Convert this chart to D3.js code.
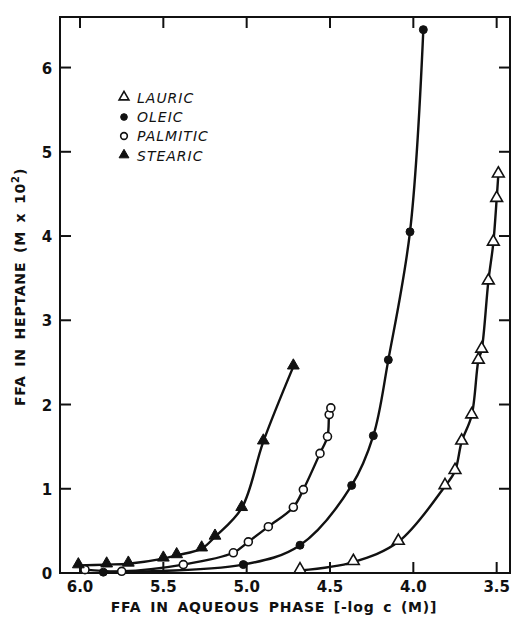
<!DOCTYPE html>
<html>
<head>
<meta charset="utf-8">
<script src="https://cdn.jsdelivr.net/npm/d3@7"></script>
<style>
  body { margin: 0; background: #fff; }
  svg { display: block; }
  text { font-family: "DejaVu Sans", sans-serif; fill: #111; }
</style>
</head>
<body>
<svg id="chart"></svg>
<script>
// x = -log c (M) in aqueous phase, y = FFA in heptane (M x 10^2)
const lauric = [
  [4.68, 0.03], [4.36, 0.13], [4.09, 0.37], [3.81, 1.03], [3.75, 1.21],
  [3.71, 1.56], [3.65, 1.87], [3.61, 2.52], [3.59, 2.65], [3.55, 3.46],
  [3.52, 3.92], [3.50, 4.44], [3.49, 4.73]
];
const oleic = [
  [5.86, 0.01], [5.02, 0.10], [4.68, 0.33], [4.37, 1.04], [4.24, 1.63],
  [4.15, 2.53], [4.02, 4.05], [3.94, 6.45]
];
const palmitic = [
  [5.97, 0.04], [5.75, 0.02], [5.38, 0.10], [5.08, 0.24], [4.99, 0.37],
  [4.87, 0.55], [4.72, 0.78], [4.66, 0.99], [4.56, 1.42], [4.515, 1.62],
  [4.505, 1.88], [4.495, 1.96]
];
const stearic = [
  [6.01, 0.09], [5.84, 0.10], [5.71, 0.11], [5.50, 0.17], [5.42, 0.21],
  [5.27, 0.29], [5.19, 0.43], [5.03, 0.77], [4.90, 1.56], [4.72, 2.45]
];
const xTicks = [6.0, 5.5, 5.0, 4.5, 4.0, 3.5];
const yTicks = [0, 1, 2, 3, 4, 5, 6];

const seriesNames = ["LAURIC", "OLEIC", "PALMITIC", "STEARIC"];
const seriesData = [lauric, oleic, palmitic, stearic];
const seriesMarks = ["triangle-open", "circle-filled", "circle-open", "triangle-filled"];

const width = 513, height = 625;
const plot = { left: 60, right: 510, top: 17, bottom: 573 };

const svg = d3.select("#chart").attr("width", width).attr("height", height);

const x = d3.scaleLinear().domain([6.12, 3.42]).range([plot.left, plot.right]);
const y = d3.scaleLinear().domain([0, 6.6]).range([plot.bottom, plot.top]);

// frame
svg.append("rect")
  .attr("x", plot.left).attr("y", plot.top)
  .attr("width", plot.right - plot.left).attr("height", plot.bottom - plot.top)
  .attr("fill", "none").attr("stroke", "#111").attr("stroke-width", 2);

// inward ticks on all four sides
const tickLen = 11;
const tickG = svg.append("g").attr("stroke", "#111").attr("stroke-width", 2);
xTicks.forEach(t => {
  tickG.append("line").attr("x1", x(t)).attr("x2", x(t))
    .attr("y1", plot.bottom).attr("y2", plot.bottom - tickLen);
  tickG.append("line").attr("x1", x(t)).attr("x2", x(t))
    .attr("y1", plot.top).attr("y2", plot.top + tickLen);
});
yTicks.filter(t => t > 0).forEach(t => {
  tickG.append("line").attr("x1", plot.left).attr("x2", plot.left + tickLen)
    .attr("y1", y(t)).attr("y2", y(t));
  tickG.append("line").attr("x1", plot.right).attr("x2", plot.right - tickLen)
    .attr("y1", y(t)).attr("y2", y(t));
});

// tick labels
svg.append("g").selectAll("text")
  .data(xTicks)
  .join("text")
  .attr("x", d => x(d))
  .attr("y", 592)
  .attr("text-anchor", "middle")
  .style("font-size", "15px")
  .style("font-weight", "bold")
  .text(d => d.toFixed(1));

svg.append("g").selectAll("text")
  .data(yTicks)
  .join("text")
  .attr("x", 47)
  .attr("y", d => y(d) + 6)
  .attr("text-anchor", "middle")
  .style("font-size", "15px")
  .style("font-weight", "bold")
  .text(d => d);

// axis titles
svg.append("text")
  .attr("x", 274).attr("y", 612)
  .attr("text-anchor", "middle")
  .style("font-size", "14px")
  .style("font-weight", "bold")
  .style("letter-spacing", "0.8px")
  .style("word-spacing", "3px")
  .text("FFA IN AQUEOUS PHASE [-log c (M)]");

svg.append("text")
  .attr("transform", "translate(25,287) rotate(-90)")
  .attr("text-anchor", "middle")
  .style("font-size", "14px")
  .style("font-weight", "bold")
  .style("letter-spacing", "0.8px")
  .style("word-spacing", "3px")
  .html('FFA IN HEPTANE (M x 10<tspan dy="-6" style="font-size:10px">2</tspan><tspan dy="6">)</tspan>');

// curves through the measured points
const line = d3.line()
  .x(d => x(d[0]))
  .y(d => y(d[1]))
  .curve(d3.curveCatmullRom.alpha(0.5));

const curveG = svg.append("g");
seriesData.forEach(data => {
  curveG.append("path")
    .attr("d", line(data))
    .attr("fill", "none")
    .attr("stroke", "#111")
    .attr("stroke-width", 2.4);
});

// markers
const triSym = d3.symbol().type(d3.symbolTriangle);
const circSym = d3.symbol().type(d3.symbolCircle);

function drawMark(g, kind, cx, cy, scale = 1) {
  const open = kind.endsWith("open");
  const isTri = kind.startsWith("triangle");
  const sym = isTri ? triSym.size(60 * scale) : circSym.size(50 * scale);
  g.append("path")
    .attr("d", sym())
    .attr("transform", `translate(${cx},${cy + (isTri ? -1 : 0)})`)
    .attr("fill", open ? "#fff" : "#111")
    .attr("stroke", "#111")
    .attr("stroke-width", open ? 1.6 : 1);
}

const markG = svg.append("g");
seriesData.forEach((data, i) => {
  data.forEach(d => drawMark(markG, seriesMarks[i], x(d[0]), y(d[1])));
});

// legend
const legendRows = [98, 117, 136, 156];
const legendG = svg.append("g");
seriesNames.forEach((name, i) => {
  drawMark(legendG, seriesMarks[i], 124, legendRows[i], 0.7);
  legendG.append("text")
    .attr("x", 137)
    .attr("y", legendRows[i] + 5)
    .style("font-size", "14px")
    .style("font-style", "italic")
    .style("letter-spacing", "1px")
    .text(name);
});
</script>
</body>
</html>
